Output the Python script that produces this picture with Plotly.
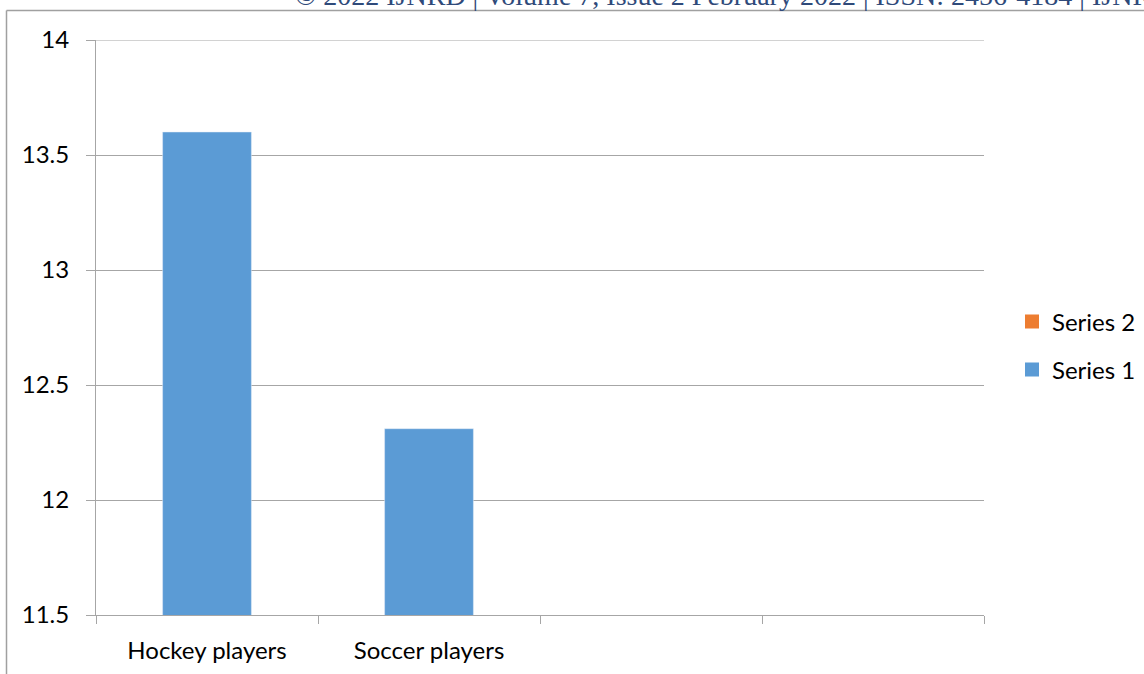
import plotly.graph_objects as go

categories = ["Hockey players", "Soccer players", " ", "  "]
series1 = [13.6, 12.31, None, None]
series2 = [None, None, None, None]
y_ticks = [11.5, 12, 12.5, 13, 13.5, 14]
y_tick_labels = ["11.5", "12", "12.5", "13", "13.5", "14"]
header = "© 2022 IJNRD | Volume 7, Issue 2 February 2022 | ISSN: 2456-4184 | IJNRD.ORG"

W, H = 1144, 674
L, R, T, B = 96, 984, 40, 615
C1, C2 = "#5B9BD5", "#ED7D31"

def px_x(p):
    return (p - L) / (R - L)

def px_y(p):
    return (B - p) / (B - T)

fig = go.Figure()
fig.add_trace(go.Bar(x=categories, y=series2, name="Series 2", marker_color=C2,
                     width=0.4, showlegend=False))
fig.add_trace(go.Bar(x=categories, y=series1, name="Series 1", marker_color=C1,
                     width=0.4, showlegend=False))
# legend entries (square swatches)
fig.add_trace(go.Scatter(x=[None], y=[None], mode="markers", name="Series 2",
                         marker=dict(symbol="square", size=14, color=C2), legend="legend"))
fig.add_trace(go.Scatter(x=[None], y=[None], mode="markers", name="Series 1",
                         marker=dict(symbol="square", size=14, color=C1), legend="legend2"))

fig.update_layout(
    width=W, height=H,
    margin=dict(l=L, r=W - R, t=T, b=H - B, autoexpand=False),
    paper_bgcolor="white", plot_bgcolor="white",
    barmode="overlay",
    font=dict(family="Lato, sans-serif", size=24, color="#000000"),
    xaxis=dict(
        type="category", categoryorder="array", categoryarray=categories,
        range=[-0.5, 3.5], tickson="boundaries", ticks="outside", ticklen=8,
        tickcolor="#A6A6A6", showline=True, linecolor="#A6A6A6", linewidth=1,
        showgrid=False, tickfont=dict(size=24), fixedrange=True,
        ticklabelstandoff=14,
    ),
    yaxis=dict(
        range=[11.5, 14], tickvals=y_ticks, ticktext=y_tick_labels,
        ticks="outside", ticklen=9, tickcolor="#A6A6A6",
        showline=True, linecolor="#A6A6A6", linewidth=1,
        showgrid=True, gridcolor="#A6A6A6", gridwidth=1,
        zeroline=False, tickfont=dict(size=24), ticklabelstandoff=12,
    ),
    legend=dict(x=px_x(1012), y=px_y(322), xanchor="left", yanchor="middle",
                bgcolor="rgba(0,0,0,0)", font=dict(size=24), itemwidth=30),
    legend2=dict(x=px_x(1012), y=px_y(370), xanchor="left", yanchor="middle",
                 bgcolor="rgba(0,0,0,0)", font=dict(size=24), itemwidth=30),
    showlegend=True,
)

# top gridline at 14 (plot edge)
fig.add_shape(type="line", xref="paper", yref="y", x0=0, x1=1, y0=14, y1=14,
              line=dict(color="#A6A6A6", width=1))

fig.add_annotation(
    text=header, xref="paper", yref="paper", x=px_x(293), y=px_y(13),
    xanchor="left", yanchor="bottom", showarrow=False,
    font=dict(family="Liberation Serif, serif", size=28, color="#2F4A7A"),
)

fig.add_shape(type="line", xref="paper", yref="paper",
              x0=px_x(6.5), x1=px_x(1150), y0=px_y(10.5), y1=px_y(10.5),
              line=dict(color="#A0A0A0", width=1.5))
fig.add_shape(type="line", xref="paper", yref="paper",
              x0=px_x(6.5), x1=px_x(6.5), y0=px_y(10.5), y1=px_y(680),
              line=dict(color="#A0A0A0", width=1.5))

fig.write_html("out.html")
